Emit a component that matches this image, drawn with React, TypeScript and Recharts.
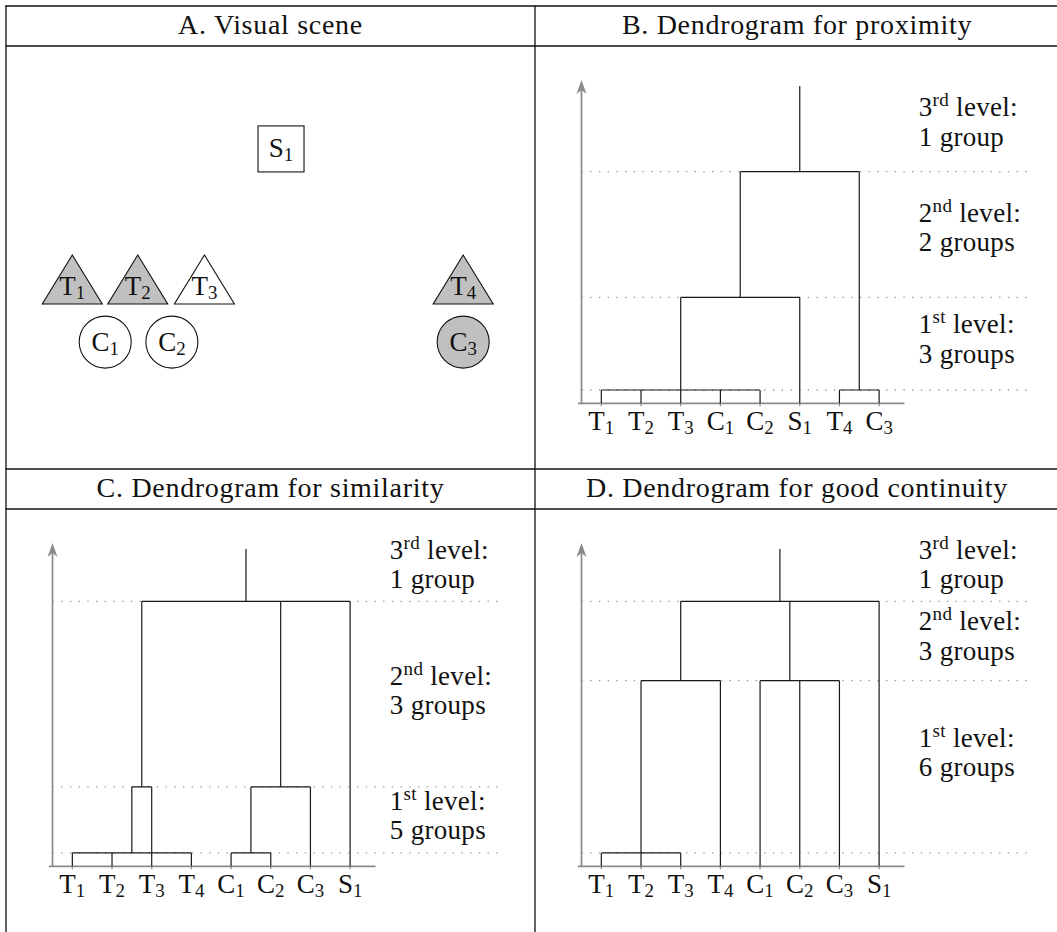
import React from 'react';
import { ComposedChart, ScatterChart, Scatter, Line, XAxis, YAxis, ReferenceLine } from 'recharts';

const FONT = '"Liberation Serif", "Times New Roman", serif';
const INK = '#111';
const AXIS = '#8a8a8a';

// panel titles
const titles = ['A. Visual scene', 'B. Dendrogram for proximity', 'C. Dendrogram for similarity', 'D. Dendrogram for good continuity'];

// A. visual scene (scene units)
const sceneNames = ['S1', 'T1', 'T2', 'T3', 'T4', 'C1', 'C2', 'C3'];
const sceneKinds = ['square', 'triangle', 'triangle', 'triangle', 'triangle', 'circle', 'circle', 'circle'];
const sceneX = [6.93, 1.67, 3.32, 5.0, 11.52, 2.5, 4.18, 11.52];
const sceneY = [8.07, 4.57, 4.57, 4.57, 4.57, 3.2, 3.2, 3.2];
const sceneShaded = [false, true, true, false, true, false, false, true];

// level labels, bottom to top
const levelOrd = ['1', '2', '3'];
const levelSup = ['st', 'nd', 'rd'];

// B. proximity
const leavesB = ['T1', 'T2', 'T3', 'C1', 'C2', 'S1', 'T4', 'C3'];
const levelsB = [0.335, 2.67, 5.84];
const clustersB = [
  { id: 'g1', children: ['T1', 'T2', 'T3', 'C1', 'C2'], level: 0 },
  { id: 'g2', children: ['T4', 'C3'], level: 0 },
  { id: 'g3', children: ['g1', 'S1'], level: 1 },
  { id: 'g4', children: ['g3', 'g2'], level: 2 },
];
const groupsB = ['3 groups', '2 groups', '1 group'];
const labelYB = [1.77, 4.58, 7.24];

// C. similarity
const leavesC = ['T1', 'T2', 'T3', 'T4', 'C1', 'C2', 'C3', 'S1'];
const levelsC = [0.338, 2.0, 6.68];
const clustersC = [
  { id: 'g1', children: ['T1', 'T2', 'T4'], level: 0 },
  { id: 'g2', children: ['C1', 'C2'], level: 0 },
  { id: 'g3', children: ['g1', 'T3'], level: 1 },
  { id: 'g4', children: ['g2', 'C3'], level: 1 },
  { id: 'g5', children: ['g3', 'g4', 'S1'], level: 2 },
];
const groupsC = ['5 groups', '3 groups', '1 group'];
const labelYC = [1.43, 4.58, 7.75];

// D. good continuity
const leavesD = ['T1', 'T2', 'T3', 'T4', 'C1', 'C2', 'C3', 'S1'];
const levelsD = [0.338, 4.68, 6.68];
const clustersD = [
  { id: 'g1', children: ['T1', 'T2', 'T3'], level: 0 },
  { id: 'g2', children: ['g1', 'T4'], level: 1 },
  { id: 'g3', children: ['C1', 'C2', 'C3'], level: 1, at: 4.75 },
  { id: 'g4', children: ['g2', 'g3', 'S1'], level: 2 },
];
const groupsD = ['6 groups', '3 groups', '1 group'];
const labelYD = [3.02, 5.95, 7.75];

const TOP = 8;
const Y_MAX = 8.15;
const X_MIN = -0.5;
const X_MAX = 10.84;
const AXIS_END = 7.64;

type Cluster = { id: string; children: string[]; level: number; at?: number };

function buildLinks(leaves: string[], levels: number[], clusters: Cluster[]) {
  const pos: Record<string, number> = {};
  const h: Record<string, number> = {};
  leaves.forEach((n, i) => { pos[n] = i; h[n] = 0; });
  const pts: { x: number; y: number | null }[] = [];
  clusters.forEach((c) => {
    const xs = c.children.map((k) => pos[k]);
    const lh = levels[c.level];
    const lo = Math.min(...xs);
    const hi = Math.max(...xs);
    pos[c.id] = c.at ?? (lo + hi) / 2;
    h[c.id] = lh;
    c.children.forEach((k) => {
      pts.push({ x: pos[k], y: h[k] }, { x: pos[k], y: lh }, { x: pos[k], y: null });
    });
    pts.push({ x: lo, y: lh }, { x: hi, y: lh }, { x: hi, y: null });
  });
  const root = clusters[clusters.length - 1].id;
  pts.push({ x: pos[root], y: h[root] }, { x: pos[root], y: TOP });
  return pts;
}

const Sub = ({ name, x, y, size = 27, anchor = 'middle' }: any) => (
  <text x={x} y={y} textAnchor={anchor} fontFamily={FONT} fontSize={size} fill={INK}>
    <tspan>{name[0]}</tspan>
    <tspan fontSize={size * 0.7} dy={4}>{name.slice(1)}</tspan>
  </text>
);

const SceneShape = (props: any) => {
  const { cx, cy, payload } = props;
  const fill = payload.shaded ? '#c0c0c0' : '#ffffff';
  let mark = null;
  let base = cy + 8.5;
  if (payload.kind === 'square') {
    mark = <rect x={cx - 23} y={cy - 23} width={46} height={46} fill={fill} stroke={INK} strokeWidth={1.1} />;
  } else if (payload.kind === 'triangle') {
    mark = (
      <polygon
        points={`${cx},${cy - 32.7} ${cx - 30},${cy + 16.3} ${cx + 30},${cy + 16.3}`}
        fill={fill}
        stroke={INK}
        strokeWidth={1.1}
      />
    );
    base = cy + 7.5;
  } else {
    mark = <circle cx={cx} cy={cy} r={26} fill={fill} stroke={INK} strokeWidth={1.1} />;
  }
  return (
    <g>
      {mark}
      <Sub name={payload.name} x={cx} y={base} />
    </g>
  );
};

const LevelLabel = (props: any) => {
  const { cx, cy, payload } = props;
  return (
    <g>
      <text x={cx} y={cy} fontFamily={FONT} fontSize={27} letterSpacing={0.3} fill={INK}>
        <tspan>{payload.ord}</tspan>
        <tspan fontSize={19} dy={-10}>{payload.sup}</tspan>
        <tspan dy={10}> level:</tspan>
      </text>
      <text x={cx} y={cy + 29.5} fontFamily={FONT} fontSize={27} letterSpacing={0.3} fill={INK}>
        {payload.text}
      </text>
    </g>
  );
};

const ArrowAxis = (props: any) => {
  const { x1, y1, x2, y2 } = props;
  const tip = Math.min(y1, y2);
  const bottom = Math.max(y1, y2);
  return (
    <g>
      <line x1={x1} x2={x2} y1={bottom} y2={tip + 8} stroke={AXIS} strokeWidth={1.7} />
      <path d={`M${x1},${tip} L${x1 - 5},${tip + 14} L${x1},${tip + 10} L${x1 + 5},${tip + 14} Z`} fill={AXIS} />
    </g>
  );
};

function Dendrogram({ leaves, levels, clusters, groups, labelY }: any) {
  const links = buildLinks(leaves, levels, clusters);
  const labels = levelOrd.map((o, i) => ({ x: 8, y: labelY[i], ord: o, sup: levelSup[i], text: groups[i] }));
  const ticks = leaves.map((_: string, i: number) => i);
  return (
    <ComposedChart width={522} height={423} margin={{ top: 34, right: 25.5, bottom: 25.7, left: 46.5 }}>
      <XAxis
        type="number"
        dataKey="x"
        domain={[X_MIN, X_MAX]}
        ticks={ticks}
        interval={0}
        axisLine={false}
        tickLine={{ stroke: AXIS, strokeWidth: 1.2 }}
        tickSize={3}
        height={40}
        tick={(p: any) => <Sub key={p.index} name={leaves[p.payload.value]} x={p.x} y={p.y + 21.5} />}
      />
      <YAxis type="number" dataKey="y" domain={[0, Y_MAX]} hide />
      {levels.map((lv: number) => (
        <ReferenceLine
          key={lv}
          segment={[{ x: X_MIN, y: lv }, { x: X_MAX, y: lv }]}
          stroke="#9a9a9a"
          strokeWidth={1.3}
          strokeDasharray="1.4 7.3"
          ifOverflow="visible"
        />
      ))}
      <ReferenceLine
        segment={[{ x: X_MIN - 0.09, y: 0 }, { x: AXIS_END, y: 0 }]}
        stroke={AXIS}
        strokeWidth={1.7}
        ifOverflow="visible"
      />
      <ReferenceLine
        segment={[{ x: X_MIN, y: 0 }, { x: X_MIN, y: Y_MAX }]}
        ifOverflow="visible"
        shape={ArrowAxis}
      />
      <Line
        data={links}
        dataKey="y"
        type="linear"
        stroke="#1a1a1a"
        strokeWidth={1.2}
        dot={false}
        activeDot={false}
        connectNulls={false}
        isAnimationActive={false}
      />
      <Scatter data={labels} dataKey="y" shape={LevelLabel} isAnimationActive={false} />
    </ComposedChart>
  );
}

function Scene() {
  const pts = sceneNames.map((n, i) => ({
    name: n,
    kind: sceneKinds[i],
    x: sceneX[i],
    y: sceneY[i],
    shaded: sceneShaded[i],
  }));
  return (
    <ScatterChart width={529} height={422} margin={{ top: 0, right: 0, bottom: 0, left: 0 }}>
      <XAxis type="number" dataKey="x" domain={[0, 13.33]} hide />
      <YAxis type="number" dataKey="y" domain={[0, 10.64]} hide />
      <Scatter data={pts} shape={SceneShape} isAnimationActive={false} />
    </ScatterChart>
  );
}

export default function App() {
  const box = (left: number, top: number, child: React.ReactNode) => (
    <div style={{ position: 'absolute', left, top }}>{child}</div>
  );
  return (
    <div style={{ position: 'absolute', left: 0, top: 0, width: 1057, height: 932, background: '#fff', overflow: 'hidden' }}>
      <svg width={1057} height={932} style={{ position: 'absolute', left: 0, top: 0 }}>
        <g stroke={INK} strokeWidth={1.3}>
          <line x1={6} x2={6} y1={5.5} y2={932} />
          <line x1={535} x2={535} y1={5.5} y2={932} />
          <line x1={5.5} x2={1057} y1={6} y2={6} />
          <line x1={5.5} x2={1057} y1={46} y2={46} />
          <line x1={5.5} x2={1057} y1={469} y2={469} />
          <line x1={5.5} x2={1057} y1={509} y2={509} />
        </g>
        {titles.map((t, i) => (
          <text
            key={t}
            x={i % 2 === 0 ? 270.5 : 797}
            y={i < 2 ? 33.5 : 496.5}
            textAnchor="middle"
            fontFamily={FONT}
            fontSize={28}
            letterSpacing={0.7}
            fill={INK}
          >
            {t}
          </text>
        ))}
      </svg>
      {box(6, 47, <Scene />)}
      {box(535, 46, <Dendrogram leaves={leavesB} levels={levelsB} clusters={clustersB} groups={groupsB} labelY={labelYB} />)}
      {box(6, 509, <Dendrogram leaves={leavesC} levels={levelsC} clusters={clustersC} groups={groupsC} labelY={labelYC} />)}
      {box(535, 509, <Dendrogram leaves={leavesD} levels={levelsD} clusters={clustersD} groups={groupsD} labelY={labelYD} />)}
    </div>
  );
}
